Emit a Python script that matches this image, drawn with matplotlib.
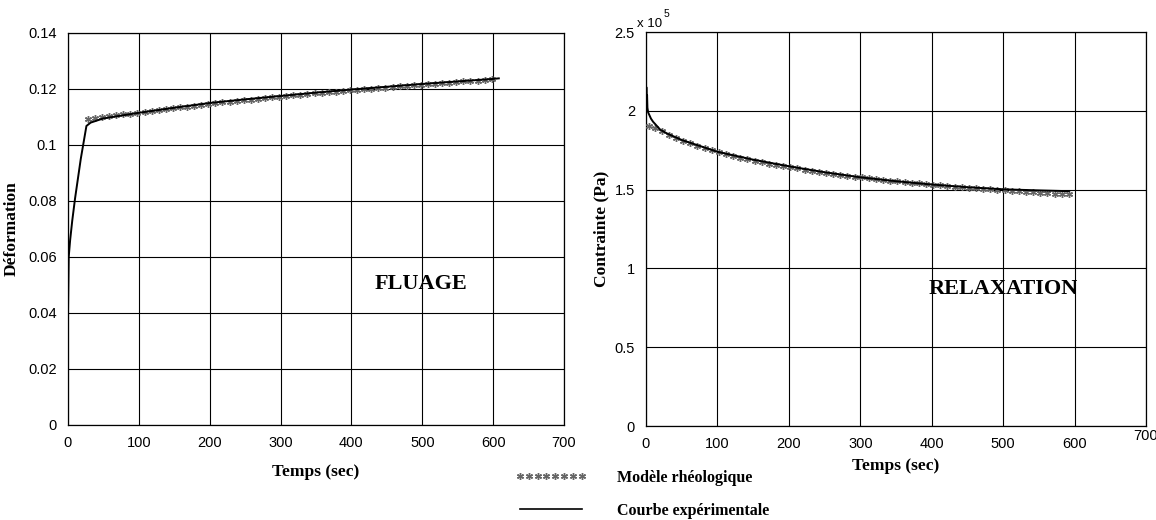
import numpy as np
import matplotlib
matplotlib.use("Agg")
import matplotlib.pyplot as plt
from matplotlib.ticker import FuncFormatter
from matplotlib.lines import Line2D

# =========================
# DATA
# =========================
# creep test (fluage): strain vs time
creep_t_exp = [0, 0, 1, 3, 6, 10, 18, 26, 32, 50, 100, 150, 200, 250, 300, 350, 400, 450, 500, 550, 600, 608]
creep_exp = [0.030, 0.040, 0.060, 0.066, 0.073, 0.081, 0.095, 0.1068, 0.1080, 0.1095, 0.1115, 0.1133, 0.1150,
             0.1163, 0.1175, 0.1187, 0.1198, 0.1208, 0.1218, 0.1227, 0.1236, 0.1238]

creep_t_model = [28, 38, 48, 58, 68, 78, 88, 98, 108, 118, 128, 138, 148, 158, 168, 178, 188, 198,
                 208, 218, 228, 238, 248, 258, 268, 278, 288, 298, 308, 318, 328, 338, 348, 358, 368,
                 378, 388, 398, 408, 418, 428, 438, 448, 458, 468, 478, 488, 498, 508, 518, 528, 538,
                 548, 558, 568, 578, 588, 598]
creep_model = [0.1092, 0.1096, 0.1100, 0.1103, 0.1106, 0.1109, 0.1112, 0.1115, 0.1118, 0.1121, 0.1125,
               0.1128, 0.1131, 0.1134, 0.1137, 0.1140, 0.1143, 0.1146, 0.1149, 0.1152, 0.1155, 0.1157,
               0.1160, 0.1162, 0.1165, 0.1167, 0.1170, 0.1172, 0.1175, 0.1177, 0.1180, 0.1182, 0.1184,
               0.1186, 0.1189, 0.1191, 0.1193, 0.1195, 0.1197, 0.1199, 0.1201, 0.1203, 0.1205, 0.1207,
               0.1209, 0.1211, 0.1213, 0.1215, 0.1217, 0.1219, 0.1221, 0.1223, 0.1225, 0.1227, 0.1228,
               0.1230, 0.1232, 0.1234]

# relaxation test: stress (Pa) vs time
relax_t_exp = [0, 0.5, 1, 1.5, 2, 3, 5, 7, 10, 14, 20, 30, 50, 100, 150, 200, 250, 300, 350, 400,
               450, 500, 550, 592]
relax_exp = [2.00e5, 2.15e5, 2.05e5, 2.10e5, 2.02e5, 1.99e5, 1.97e5, 1.95e5, 1.93e5, 1.91e5, 1.88e5,
             1.855e5, 1.815e5, 1.74e5, 1.69e5, 1.648e5, 1.61e5, 1.578e5, 1.553e5, 1.532e5, 1.515e5,
             1.502e5, 1.495e5, 1.49e5]

relax_t_model = [4, 12, 22, 32, 42, 52, 62, 72, 82, 92, 102, 112, 122, 132, 142, 152, 162, 172, 182,
                 192, 202, 212, 222, 232, 242, 252, 262, 272, 282, 292, 302, 312, 322, 332, 342, 352,
                 362, 372, 382, 392, 402, 412, 422, 432, 442, 452, 462, 472, 482, 492, 502, 512, 522,
                 532, 542, 552, 562, 572, 582, 592]
relax_model = [1.905e5, 1.89e5, 1.87e5, 1.848e5, 1.828e5, 1.81e5, 1.793e5, 1.778e5, 1.763e5, 1.75e5,
               1.737e5, 1.725e5, 1.713e5, 1.702e5, 1.692e5, 1.682e5, 1.673e5, 1.665e5, 1.657e5,
               1.649e5, 1.641e5, 1.634e5, 1.627e5, 1.62e5, 1.613e5, 1.607e5, 1.601e5, 1.595e5,
               1.589e5, 1.583e5, 1.577e5, 1.572e5, 1.567e5, 1.562e5, 1.557e5, 1.552e5, 1.548e5,
               1.543e5, 1.539e5, 1.535e5, 1.531e5, 1.527e5, 1.523e5, 1.519e5, 1.516e5, 1.512e5,
               1.509e5, 1.505e5, 1.502e5, 1.499e5, 1.496e5, 1.493e5, 1.49e5, 1.487e5, 1.484e5,
               1.481e5, 1.478e5, 1.475e5, 1.472e5, 1.47e5]

x_ticks = [0, 100, 200, 300, 400, 500, 600, 700]
creep_y_ticks = [0, 0.02, 0.04, 0.06, 0.08, 0.1, 0.12, 0.14]
relax_y_ticks = [0, 0.5e5, 1e5, 1.5e5, 2e5, 2.5e5]

# =========================
# STYLE
# =========================
serif = "Liberation Serif"
sans = "Liberation Sans"
star = (6, 2, 0)
model_kw = dict(linestyle="none", marker=star, markersize=5, markeredgewidth=1.0,
                color="0.4", zorder=3)
exp_kw = dict(color="black", linewidth=1.4, zorder=4)


def style_axes(ax):
    ax.grid(True, color="black", linewidth=0.8)
    ax.set_axisbelow(True)
    ax.tick_params(length=0, pad=8, labelsize=10.5)
    for lab in ax.get_xticklabels() + ax.get_yticklabels():
        lab.set_fontfamily(sans)
    for sp in ax.spines.values():
        sp.set_color("black")
        sp.set_linewidth(0.9)


fig = plt.figure(figsize=(11.56, 5.2), dpi=100)

# =========================
# LEFT: FLUAGE
# =========================
ax1 = fig.add_axes([68 / 1156, 95 / 520, 496 / 1156, 392 / 520])
ax1.plot(creep_t_model, creep_model, **model_kw)
ax1.plot(creep_t_exp, creep_exp, **exp_kw)
ax1.set_xlim(0, 700)
ax1.set_ylim(0, 0.14)
ax1.set_xticks(x_ticks)
ax1.set_yticks(creep_y_ticks)
ax1.yaxis.set_major_formatter(FuncFormatter(lambda v, p: "%g" % v))
style_axes(ax1)
ax1.set_xlabel("Temps (sec)", fontfamily=serif, fontweight="bold", fontsize=12.5, labelpad=10)
ax1.set_ylabel("Déformation", fontfamily=serif, fontweight="bold", fontsize=12.5, labelpad=6)
ax1.text(498, 0.0505, "FLUAGE", fontfamily=serif, fontweight="bold", fontsize=16,
         ha="center", va="center")

# =========================
# RIGHT: RELAXATION
# =========================
ax2 = fig.add_axes([646 / 1156, 94 / 520, 500 / 1156, 394 / 520])
ax2.plot(relax_t_model, relax_model, **model_kw)
ax2.plot(relax_t_exp, relax_exp, **exp_kw)
ax2.set_xlim(0, 700)
ax2.set_ylim(0, 2.5e5)
ax2.set_xticks(x_ticks)
ax2.set_xticklabels([str(v) for v in x_ticks[:-1]] + [""])
ax2.set_yticks(relax_y_ticks)
ax2.yaxis.set_major_formatter(FuncFormatter(lambda v, p: "%g" % (v / 1e5)))
style_axes(ax2)
ax2.set_xlabel("Temps (sec)", fontfamily=serif, fontweight="bold", fontsize=12.5, labelpad=5)
ax2.set_ylabel("Contrainte (Pa)", fontfamily=serif, fontweight="bold", fontsize=12.5, labelpad=4)
ax2.text(500, 0.87e5, "RELAXATION", fontfamily=serif, fontweight="bold", fontsize=16,
         ha="center", va="center")
# raised "700" label and the exponent, as in the scan
ax2.text(1.0, -0.008, "700", transform=ax2.transAxes, fontfamily=sans, fontsize=10.5,
         ha="center", va="top")
fig.text(637 / 1156, 1 - 24 / 520, "x 10", fontfamily=sans, fontsize=9.5, ha="left", va="center")
fig.text(664 / 1156, 1 - 14 / 520, "5", fontfamily=sans, fontsize=7.5, ha="left", va="center")

# =========================
# LEGEND
# =========================
h_model = Line2D([], [], **model_kw)
h_exp = Line2D([], [], color="black", linewidth=1.2)
fig.legend([h_model, h_exp], ["Modèle rhéologique", "Courbe expérimentale"],
           loc="upper left", bbox_to_anchor=(515 / 1156, 1 - 470 / 520),
           frameon=False, numpoints=8, handlelength=4.5, handletextpad=1.9,
           labelspacing=1.05, borderpad=0, borderaxespad=0,
           prop={"family": serif, "weight": "bold", "size": 11.5})

fig.savefig("out.png", dpi=100)
